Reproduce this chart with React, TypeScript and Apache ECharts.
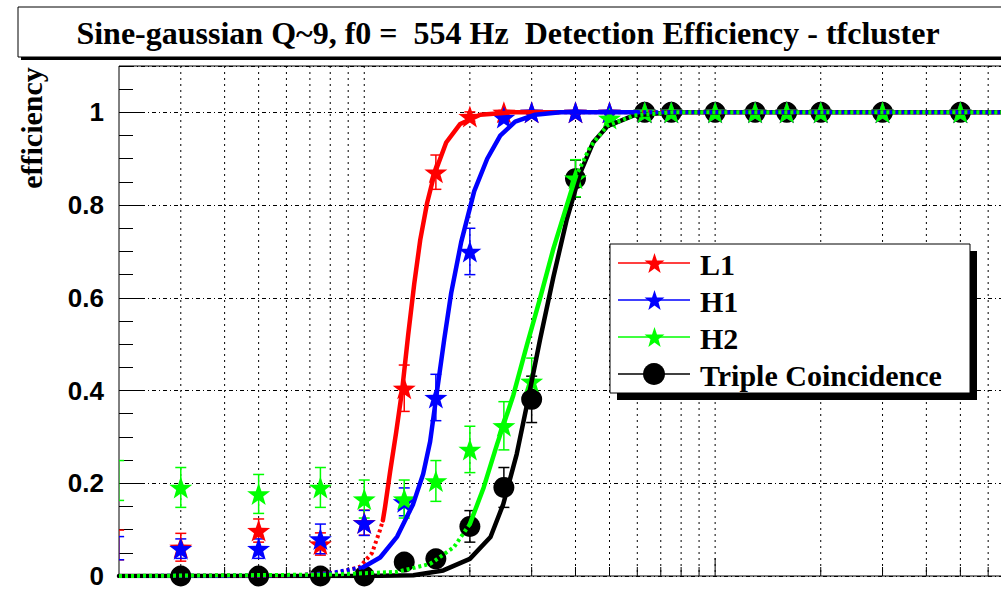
import React, { useEffect, useRef } from "react";
import * as echarts from "echarts";

const TITLE = "Sine-gaussian Q~9, f0 =  554 Hz  Detection Efficiency - tfcluster";
const Y_NAME = "efficiency";
const X_MIN = 2;
const X_MAX = 1000;
const Y_MIN = 0;
const Y_MAX = 1.1;

// injection amplitudes (arbitrary log units, labels are outside the picture)
const injX = [1.995, 3, 5, 7.5, 10, 13, 16, 20, 25, 30, 40, 50, 63, 75, 100, 130, 160, 200, 300, 500];
const l1Eff = [0.067, 0.062, 0.098, 0.069, 0.115, 0.405, 0.871, 0.991, 1.0, 1, 1, 1, 1, 1, 1, 1, 1, 1, 1, 1];
const l1Err = [0.032, 0.03, 0.025, 0.024, 0.027, 0.05, 0.037, 0.01, 0.004, 0, 0, 0, 0, 0, 0, 0, 0, 0, 0, 0];
const h1Eff = [0.06, 0.059, 0.059, 0.08, 0.1145, 0.16, 0.385, 0.7, 0.989, 1, 1, 1, 1, 1, 1, 1, 1, 1, 1, 1];
const h1Err = [0.025, 0.021, 0.021, 0.032, 0.027, 0.03, 0.05, 0.05, 0.01, 0, 0, 0, 0, 0, 0, 0, 0, 0, 0, 0];
const h2Eff = [0.206, 0.191, 0.177, 0.191, 0.166, 0.166, 0.205, 0.273, 0.324, 0.42, 0.858, 0.987, 1, 1, 1, 1, 1, 1, 1, 1];
const h2Err = [0.043, 0.043, 0.042, 0.043, 0.041, 0.041, 0.044, 0.05, 0.052, 0.05, 0.04, 0.01, 0, 0, 0, 0, 0, 0, 0, 0];

const tcX = [3, 5, 7.5, 10, 13, 16, 20, 25, 30, 40, 63, 75, 100, 130, 160, 200, 300, 500];
const tcEff = [0, 0, 0, 0, 0.03, 0.037, 0.107, 0.191, 0.381, 0.857, 1, 1, 1, 1, 1, 1, 1, 1];
const tcErr = [0, 0, 0, 0, 0.015, 0.016, 0.034, 0.043, 0.05, 0.04, 0, 0, 0, 0, 0, 0, 0, 0];

// fitted curves (solid = fit range, dotted = extension)
const l1LoX = [2, 5, 6.56, 8.54, 9.73, 10.53, 11.1, 11.3];
const l1LoY = [0, 0.0005, 0.002, 0.008, 0.02, 0.05, 0.1, 0.12];
const l1FitX = [11.3, 11.47, 11.85, 12.33, 12.82, 13.34, 13.88, 14.44, 15.11, 15.82, 17.12, 18.77, 21.4, 26.1, 35.7];
const l1FitY = [0.12, 0.15, 0.225, 0.31, 0.4, 0.52, 0.63, 0.725, 0.805, 0.865, 0.935, 0.975, 0.995, 1, 1];
const l1HiX = [35.7, 1000];
const l1HiY = [1, 1];

const h1LoX = [2, 5, 6.56, 7.99, 9.93];
const h1LoY = [0, 0.001, 0.002, 0.006, 0.019];
const h1FitX = [9.93, 11.1, 12.41, 13.78, 14.72, 15.41, 16.13, 16.9, 17.69, 18.89, 20.58, 22.41, 24.41, 26.93, 30.71, 36.18, 60];
const h1FitY = [0.019, 0.04, 0.085, 0.155, 0.22, 0.29, 0.4, 0.51, 0.61, 0.72, 0.83, 0.9, 0.95, 0.98, 0.995, 1, 1];
const h1HiX = [60, 1000];
const h1HiY = [1, 1];

const h2LoX = [2, 8, 12.4, 15.4, 18, 20];
const h2LoY = [0, 0.003, 0.009, 0.026, 0.062, 0.112];
const h2FitX = [20, 21.9, 23.9, 26.6, 29.1, 31.7, 34.6, 37.8, 40];
const h2FitY = [0.112, 0.191, 0.284, 0.39, 0.499, 0.599, 0.706, 0.8, 0.86];
const h2HiX = [40, 44, 49.2, 58.6, 75, 1000];
const h2HiY = [0.86, 0.925, 0.971, 0.993, 1, 1];

const tcFitX = [2, 10, 13.8, 16.8, 20, 22.9, 24.9, 27.2, 29.1, 31.7, 34.6, 37.8, 41.3, 44.9, 49.3, 58.4, 75, 1000];
const tcFitY = [0, 0, 0.0015, 0.012, 0.037, 0.084, 0.155, 0.263, 0.37, 0.51, 0.645, 0.77, 0.87, 0.935, 0.97, 0.993, 1, 1];

const gridX = [3, 4, 5, 6, 7, 8, 9, 10, 20, 30, 40, 50, 60, 70, 80, 90, 100, 200, 300, 400, 500, 600, 700, 800, 900];

const legendNames = ["L1", "H1", "H2", "Triple Coincidence"];
const RED = "#ff0000";
const BLUE = "#0000ff";
const GREEN = "#00ff00";
const BLACK = "#000000";

const STAR_D =
  "M50 0 L61.76 33.82 L97.55 34.55 L69.02 56.18 L79.39 90.45 L50 70 L20.61 90.45 L30.98 56.18 L2.45 34.55 L38.24 33.82 Z";

const pairs = (xs: number[], ys: number[]) => xs.map((x, i) => [x, ys[i]]);
const triples = (xs: number[], ys: number[], es: number[]) => xs.map((x, i) => [x, ys[i], es[i]]);

function errBars(color: string, xs: number[], ys: number[], es: number[]) {
  return {
    type: "custom",
    clip: true,
    silent: true,
    data: triples(xs, ys, es),
    encode: { x: 0, y: 1 },
    renderItem: (_p: any, api: any) => {
      const x = api.value(0);
      const y = api.value(1);
      const e = api.value(2);
      if (!e) return { type: "group", children: [] };
      const t = api.coord([x, y + e]);
      const b = api.coord([x, y - e]);
      const cap = 5.5;
      const st = { stroke: color, lineWidth: 1.5 };
      return {
        type: "group",
        children: [
          { type: "line", shape: { x1: t[0], y1: t[1], x2: b[0], y2: b[1] }, style: st },
          { type: "line", shape: { x1: t[0] - cap, y1: t[1], x2: t[0] + cap, y2: t[1] }, style: st },
          { type: "line", shape: { x1: b[0] - cap, y1: b[1], x2: b[0] + cap, y2: b[1] }, style: st },
        ],
      };
    },
  };
}

function markers(color: string, xs: number[], ys: number[], symbol: string, size: any) {
  return {
    type: "scatter",
    silent: true,
    clip: false,
    symbol,
    symbolSize: size,
    itemStyle: { color, opacity: 1 },
    data: pairs(xs, ys).filter((p) => p[0] >= X_MIN),
  };
}

function curve(color: string, xs: number[], ys: number[], dotted: boolean) {
  return {
    type: "line",
    silent: true,
    showSymbol: false,
    symbol: "none",
    smooth: false,
    data: pairs(xs, ys),
    lineStyle: dotted
      ? { color, width: 4, type: [3, 3], cap: "butt" }
      : { color, width: 4.5, type: "solid", join: "round", cap: "round" },
  };
}

const textStyle = (text: string, size: number, family: string, align: string) => ({
  text,
  fill: "#000",
  fontSize: size,
  fontFamily: family,
  fontWeight: "bold",
  align,
  verticalAlign: "middle",
  textAlign: align,
  textVerticalAlign: "middle",
});

const CANVAS_W = 1080;
const CANVAS_H = 589;

export default function App() {
  const ref = useRef<HTMLDivElement>(null);
  useEffect(() => {
    if (!ref.current) return;
    echarts.graphic.registerShape("legendStar", echarts.graphic.extendPath(STAR_D, {}) as any);
    const chart = echarts.init(ref.current, undefined, { renderer: "svg" });

    const legendColors = [RED, BLUE, GREEN, BLACK];
    const rowY = [263, 300, 337, 374];
    const legendEls: any[] = [
      { type: "rect", z: 100, shape: { x: 617, y: 251, width: 360, height: 149 }, style: { fill: "#000" } },
      { type: "rect", z: 101, shape: { x: 610, y: 244, width: 360, height: 149 }, style: { fill: "#fff", stroke: "#000", lineWidth: 1 } },
    ];
    legendNames.forEach((name, i) => {
      const c = legendColors[i];
      legendEls.push({
        type: "line",
        z: 102,
        shape: { x1: 618, y1: rowY[i], x2: 690, y2: rowY[i] },
        style: { stroke: c, lineWidth: 1.5 },
      });
      if (i < 3) {
        legendEls.push({
          type: "legendStar",
          z: 103,
          x: 654 - 10,
          y: rowY[i] - 10,
          scaleX: 0.21,
          scaleY: 0.22,
          style: { fill: c },
        });
      } else {
        legendEls.push({ type: "circle", z: 103, shape: { cx: 654, cy: rowY[i], r: 11 }, style: { fill: c } });
      }
      legendEls.push({
        type: "text",
        z: 103,
        x: 700,
        y: rowY[i] + 1,
        style: textStyle(name, 30, "Liberation Serif", "left"),
      });
    });

    const option: any = {
      animation: false,
      backgroundColor: "#ffffff",
      grid: {
        left: 119,
        top: 66,
        right: CANVAS_W - 119 - 947,
        bottom: 10,
        show: true,
        borderColor: "#000",
        borderWidth: 1,
        backgroundColor: "transparent",
      },
      xAxis: {
        type: "log",
        logBase: 10,
        min: X_MIN,
        max: X_MAX,
        axisLine: { show: false },
        axisTick: { show: false },
        axisLabel: { show: false },
        splitLine: { show: false },
      },
      yAxis: [
        {
          type: "value",
          position: "left",
          min: Y_MIN,
          max: Y_MAX,
          interval: 0.2,
          axisLine: { show: false },
          axisTick: { show: true, inside: true, length: 26, lineStyle: { color: "#000", width: 1 } },
          axisLabel: {
            margin: 15,
            color: "#000",
            fontFamily: "Liberation Sans",
            fontWeight: "bold",
            fontSize: 26,
            lineHeight: 20,
            showMaxLabel: false,
          },
          splitLine: { show: true, lineStyle: { color: "#000", width: 1, type: [4, 3, 1, 3] } },
        },
        {
          type: "value",
          position: "left",
          offset: 0,
          min: Y_MIN,
          max: Y_MAX,
          interval: 0.05,
          axisLine: { show: false },
          axisTick: { show: true, inside: true, length: 14, lineStyle: { color: "#000", width: 1 } },
          axisLabel: { show: false },
          splitLine: { show: false },
        },
      ],
      graphic: [
        { type: "rect", z: 100, shape: { x: 21, y: 10, width: 1200, height: 50 }, style: { fill: "#000" } },
        { type: "rect", z: 101, shape: { x: 18, y: 7, width: 1200, height: 50 }, style: { fill: "#fff", stroke: "#000", lineWidth: 1 } },
        { type: "text", z: 102, x: 508, y: 33, style: textStyle(TITLE, 32, "Liberation Serif", "center") },
        {
          type: "text",
          z: 102,
          x: 31,
          y: 128,
          rotation: Math.PI / 2,
          style: textStyle(Y_NAME, 30, "Liberation Serif", "center"),
        },
        ...legendEls,
      ],
      series: [
        {
          type: "custom",
          z: 1,
          clip: true,
          silent: true,
          data: gridX.map((v) => [v, 0]),
          encode: { x: 0, y: 1 },
          renderItem: (_p: any, api: any) => {
            const v = api.value(0);
            const b = api.coord([v, Y_MIN]);
            const t = api.coord([v, Y_MAX]);
            const major = Math.abs(Math.log10(v) - Math.round(Math.log10(v))) < 1e-9;
            const len = major ? 18 : 9;
            return {
              type: "group",
              children: [
                {
                  type: "line",
                  shape: { x1: b[0], y1: t[1], x2: b[0], y2: b[1] },
                  style: { stroke: "#000", lineWidth: 1, lineDash: [2, 4] },
                },
                {
                  type: "line",
                  shape: { x1: b[0], y1: b[1], x2: b[0], y2: b[1] - len },
                  style: { stroke: "#000", lineWidth: 1 },
                },
              ],
            };
          },
        },
        // Triple coincidence
        errBars(BLACK, tcX, tcEff, tcErr),
        markers(BLACK, tcX, tcEff, "circle", 21),
        curve(BLACK, tcFitX, tcFitY, false),
        // L1
        errBars(RED, injX, l1Eff, l1Err),
        markers(RED, injX, l1Eff, "path://" + STAR_D, [23, 22]),
        curve(RED, l1LoX, l1LoY, true),
        curve(RED, l1FitX, l1FitY, false),
        curve(RED, l1HiX, l1HiY, true),
        // H1
        errBars(BLUE, injX, h1Eff, h1Err),
        markers(BLUE, injX, h1Eff, "path://" + STAR_D, [23, 22]),
        curve(BLUE, h1LoX, h1LoY, true),
        curve(BLUE, h1FitX, h1FitY, false),
        curve(BLUE, h1HiX, h1HiY, true),
        // H2
        errBars(GREEN, injX, h2Eff, h2Err),
        markers(GREEN, injX, h2Eff, "path://" + STAR_D, [23, 22]),
        curve(GREEN, h2LoX, h2LoY, true),
        curve(GREEN, h2FitX, h2FitY, false),
        curve(GREEN, h2HiX, h2HiY, true),
      ],
    };
    chart.setOption(option);
    return () => chart.dispose();
  }, []);

  return (
    <div
      style={{
        position: "absolute",
        left: 0,
        top: 0,
        width: 1001,
        height: CANVAS_H,
        overflow: "hidden",
        background: "#fff",
      }}
    >
      <div ref={ref} style={{ width: CANVAS_W, height: CANVAS_H }} />
    </div>
  );
}
